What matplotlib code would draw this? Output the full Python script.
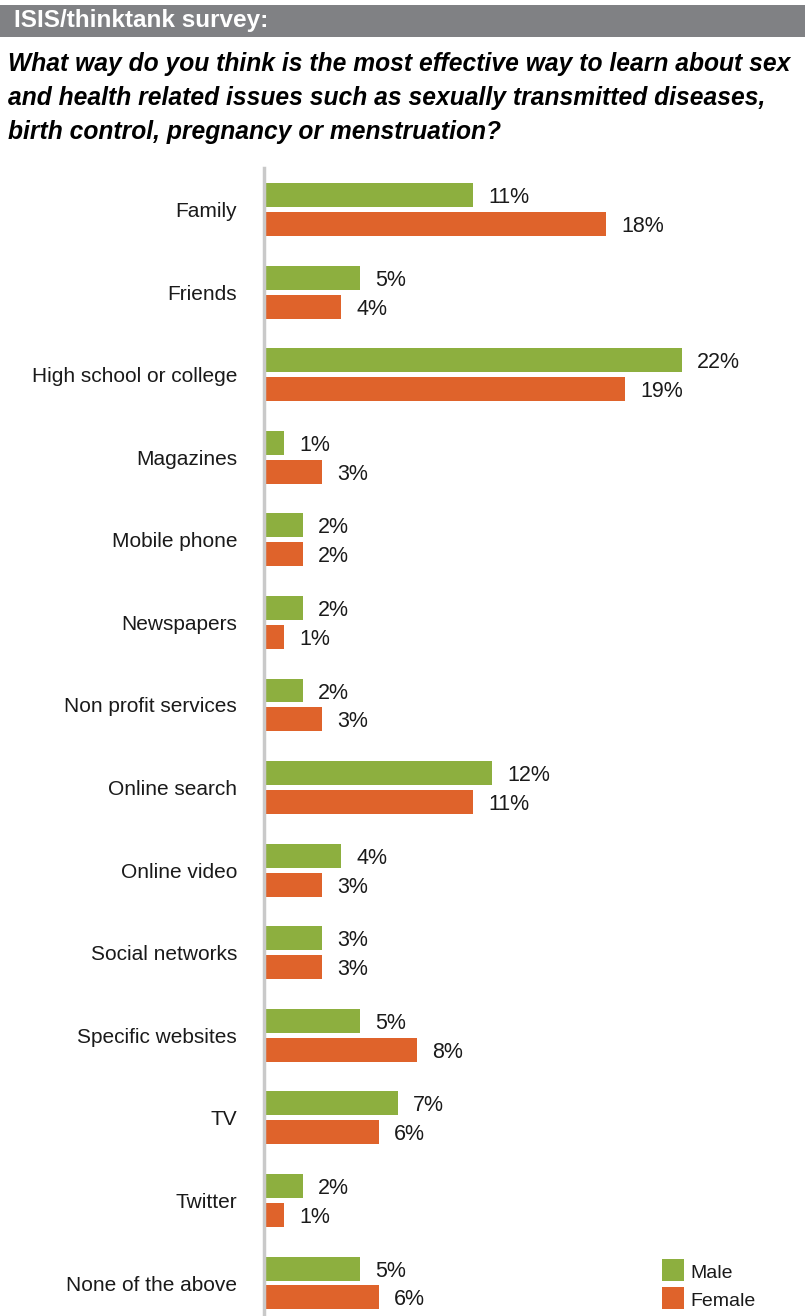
import matplotlib
matplotlib.use("Agg")
import matplotlib.pyplot as plt
from matplotlib.patches import Rectangle
import numpy as np
from matplotlib import font_manager

categories = ["Family", "Friends", "High school or college", "Magazines", "Mobile phone",
              "Newspapers", "Non profit services", "Online search", "Online video",
              "Social networks", "Specific websites", "TV", "Twitter", "None of the above"]
male = [11, 5, 22, 1, 2, 2, 2, 12, 4, 3, 5, 7, 2, 5]
female = [18, 4, 19, 3, 2, 1, 3, 11, 3, 3, 8, 6, 1, 6]
series_names = ["Male", "Female"]

header = "ISIS/thinktank survey:"
question = ["What way do you think is the most effective way to learn about sex",
            "and health related issues such as sexually transmitted diseases,",
            "birth control, pregnancy or menstruation?"]

GREEN = "#8DAF3F"
ORANGE = "#DF632B"

names = {f.name for f in font_manager.fontManager.ttflist}
narrow = "Liberation Sans Narrow" if "Liberation Sans Narrow" in names else "Liberation Sans"
base = "Liberation Sans"
plt.rcParams['font.family'] = [base, 'DejaVu Sans']

W, H = 805, 1316
fig = plt.figure(figsize=(W / 100, H / 100), dpi=100)

def fx(px):
    return px / W

def fy(py):
    return 1 - py / H

# header band
fig.patches.append(Rectangle((0, fy(37)), 1, (37 - 5) / H, transform=fig.transFigure,
                             facecolor="#808184", edgecolor="none"))
fig.text(fx(14), fy(21), header, color="white", fontsize=17.5, fontweight="bold",
         family=[narrow, 'DejaVu Sans'], va="center", ha="left")
for i, line in enumerate(question):
    fig.text(fx(8), fy(64 + 34 * i), line, fontsize=17.7, fontweight="bold", style="italic",
             family=[narrow, 'DejaVu Sans'], va="center", ha="left")

# axes
top, bottom = 168, 1316
left = 265
ax = fig.add_axes([fx(left), fy(bottom), 1 - fx(left), (bottom - top) / H])
ppu = 18.95
ax.set_xlim(0, (W - left) / ppu)
n = len(categories)
unit = 82.58
ax.set_ylim(n - 1 + (1316 - 1283) / unit, -(209.5 - 168) / unit)

y = np.arange(n)
off = 0.175
h = 0.29
ax.barh(y - off, male, height=h, color=GREEN, label=series_names[0])
ax.barh(y + off, female, height=h, color=ORANGE, label=series_names[1])

for yi, v in zip(y, male):
    ax.annotate(f"{v}%", (v, yi - off), xytext=(11, 0), textcoords="offset points",
                va="center_baseline", ha="left", fontsize=15.5, color="#1a1a1a")
for yi, v in zip(y, female):
    ax.annotate(f"{v}%", (v, yi + off), xytext=(11, 0), textcoords="offset points",
                va="center_baseline", ha="left", fontsize=15.5, color="#1a1a1a")

ax.set_yticks(y)
ax.set_yticklabels(categories, va="center_baseline")
ax.tick_params(axis="y", length=0, pad=19, labelsize=15, labelcolor="#1a1a1a")
ax.set_xticks([])
for s in ["top", "right", "bottom"]:
    ax.spines[s].set_visible(False)
ax.spines["left"].set_color("#C9C9C9")
ax.spines["left"].set_linewidth(2.5)
ax.spines["left"].set_position(("outward", 1))

# legend
for i, (name, col) in enumerate(zip(series_names, [GREEN, ORANGE])):
    y0 = 1259 + 28 * i
    fig.patches.append(Rectangle((fx(662), fy(y0 + 22)), 22 / W, 22 / H,
                                 transform=fig.transFigure, facecolor=col, edgecolor="none"))
    fig.text(fx(690), fy(y0 + 12), name, fontsize=14, va="center_baseline", ha="left",
             color="#1a1a1a")

fig.savefig("out.png", dpi=100)
